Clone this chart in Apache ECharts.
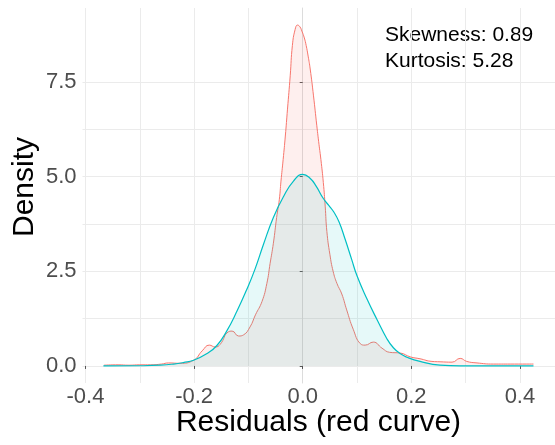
<!DOCTYPE html>
<html>
<head>
<meta charset="utf-8">
<script src="https://cdn.jsdelivr.net/npm/echarts@6/dist/echarts.min.js"></script>
<style>
  html, body { margin: 0; padding: 0; background: #fff; }
  #chart { width: 555px; height: 445px; }
</style>
</head>
<body>
<div id="chart"></div>
<script>
// Kernel density of the residuals (red curve)
const residX = [-0.366, -0.34, -0.32, -0.30, -0.28, -0.26, -0.247, -0.226, -0.201, -0.185, -0.172, -0.161,
  -0.152, -0.137, -0.130, -0.118, -0.109, -0.097, -0.087, -0.075, -0.066, -0.060, -0.054, -0.048,
  -0.043, -0.040, -0.036, -0.032, -0.028, -0.023, -0.019, -0.014, -0.0095, -0.005, -0.0015, 0.003,
  0.0064, 0.010, 0.0138, 0.0199, 0.026, 0.030, 0.0335, 0.038, 0.0414, 0.0445, 0.050, 0.056, 0.063,
  0.072, 0.081, 0.093, 0.106, 0.115, 0.130, 0.146, 0.160, 0.180, 0.198, 0.216, 0.238, 0.253, 0.275,
  0.290, 0.302, 0.321, 0.351, 0.382, 0.425];
const residDensity = [0.02, 0.03, 0.02, 0.03, 0.03, 0.05, 0.08, 0.07, 0.15, 0.40, 0.55, 0.50,
  0.57, 0.90, 0.92, 0.79, 0.82, 1.03, 1.35, 1.70, 2.18, 2.71, 3.24, 3.92,
  4.40, 4.88, 5.45, 6.07, 6.78, 7.66, 8.46, 8.88, 9.00, 8.95, 8.84, 8.66,
  8.46, 8.18, 7.84, 7.13, 6.34, 5.85, 5.45, 4.84, 4.22, 3.55, 2.95, 2.50, 2.18,
  1.90, 1.48, 0.97, 0.59, 0.55, 0.63, 0.47, 0.36, 0.34, 0.24, 0.19, 0.12, 0.11, 0.10,
  0.20, 0.12, 0.08, 0.05, 0.05, 0.05];

// Matching normal density (cyan curve)
const normX = [-0.367, -0.30, -0.262, -0.238, -0.22, -0.201, -0.176, -0.158, -0.14, -0.121, -0.103,
  -0.088, -0.072, -0.054, -0.035, -0.017, 0.0, 0.014, 0.025, 0.038, 0.048, 0.057, 0.067, 0.078,
  0.090, 0.100, 0.118, 0.137, 0.155, 0.167, 0.180, 0.192, 0.216, 0.253, 0.29, 0.425];
const normDensity = [0.0, 0.005, 0.02, 0.05, 0.09, 0.15, 0.33, 0.54, 0.92, 1.45, 2.02,
  2.55, 3.22, 3.92, 4.48, 4.88, 5.06, 4.95, 4.74, 4.42, 4.24, 4.07, 3.80, 3.35,
  2.82, 2.38, 1.78, 1.22, 0.72, 0.48, 0.32, 0.23, 0.12, 0.02, 0.0, 0.0];

// Axis breaks
const xBreaks = [-0.4, -0.2, 0, 0.2, 0.4];
const xGridBreaks = [-0.4, -0.3, -0.2, -0.1, 0, 0.1, 0.2, 0.3, 0.4];
const yBreaks = [0, 2.5, 5, 7.5];
const yGridBreaks = [0, 1.25, 2.5, 3.75, 5, 6.25, 7.5];

// Summary statistics shown in the corner
const skewness = 0.89;
const kurtosis = 5.28;

const FONT = '"Liberation Sans", Arial, Helvetica, sans-serif';
const RED = '#F8766D';
const CYAN = '#00BFC4';
const GRID = '#ebebeb';

const zip = (xs, ys) => xs.map((x, i) => [x, ys[i]]);

const xRange = { min: -0.4055, max: 0.4646 };
const yRange = { min: -0.45, max: 9.45 };

const chart = echarts.init(document.getElementById('chart'), null, { renderer: 'canvas' });

chart.setOption({
  animation: false,
  backgroundColor: '#ffffff',
  grid: { left: 82.5, right: 0, top: 8, bottom: 62, containLabel: false },
  xAxis: [
    {
      type: 'value', position: 'bottom', ...xRange,
      axisLine: { show: false },
      axisTick: { show: false, customValues: xGridBreaks },
      axisLabel: { show: false },
      splitLine: { show: true, lineStyle: { color: GRID, width: 1 } }
    },
    {
      type: 'value', position: 'bottom', ...xRange,
      axisLine: { show: false },
      axisTick: { show: true, customValues: xBreaks, length: 3, lineStyle: { color: '#555', width: 1 } },
      axisLabel: {
        customValues: xBreaks, margin: 3,
        formatter: v => v.toFixed(1),
        fontFamily: FONT, fontSize: 22, color: '#4d4d4d'
      },
      splitLine: { show: false }
    }
  ],
  yAxis: [
    {
      type: 'value', position: 'left', ...yRange,
      axisLine: { show: true, lineStyle: { color: '#dcdcdc', width: 1 } },
      axisTick: { show: false, customValues: yGridBreaks },
      axisLabel: { show: false },
      splitLine: { show: true, lineStyle: { color: GRID, width: 1 } }
    },
    {
      type: 'value', position: 'left', ...yRange,
      axisLine: { show: false },
      axisTick: { show: true, customValues: yBreaks, length: 3, lineStyle: { color: '#555', width: 1 } },
      axisLabel: {
        customValues: yBreaks, margin: 6,
        formatter: v => v.toFixed(1),
        fontFamily: FONT, fontSize: 22, color: '#4d4d4d'
      },
      splitLine: { show: false }
    }
  ],
  series: [
    {
      name: 'Residuals', type: 'line', xAxisIndex: 0, yAxisIndex: 0,
      data: zip(residX, residDensity),
      smooth: 0.5, showSymbol: false, symbol: 'none',
      lineStyle: { color: RED, width: 1 },
      areaStyle: { color: 'rgba(248,118,109,0.17)', origin: 0 },
      z: 2
    },
    {
      name: 'Normal', type: 'line', xAxisIndex: 0, yAxisIndex: 0,
      data: zip(normX, normDensity),
      smooth: 0.5, showSymbol: false, symbol: 'none',
      lineStyle: { color: CYAN, width: 1.2 },
      areaStyle: { color: 'rgba(0,191,196,0.14)', origin: 0 },
      z: 3
    }
  ],
  graphic: [
    {
      type: 'text', x: 318.5, y: 422.5,
      style: { text: 'Residuals (red curve)', font: '30px ' + FONT, fill: '#000', align: 'center', verticalAlign: 'middle' }
    },
    {
      type: 'text', x: 25, y: 187, rotation: Math.PI / 2,
      style: { text: 'Density', font: '30px ' + FONT, fill: '#000', align: 'center', verticalAlign: 'middle' }
    },
    {
      type: 'text', x: 385, y: 35,
      style: { text: 'Skewness: ' + skewness.toFixed(2), font: '21px ' + FONT, fill: '#000', align: 'left', verticalAlign: 'middle' }
    },
    {
      type: 'text', x: 385, y: 61,
      style: { text: 'Kurtosis: ' + kurtosis.toFixed(2), font: '21px ' + FONT, fill: '#000', align: 'left', verticalAlign: 'middle' }
    }
  ]
});
</script>
</body>
</html>
